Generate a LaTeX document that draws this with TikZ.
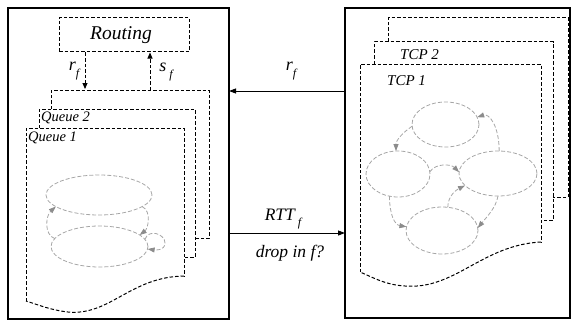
\documentclass[tikz,border=0pt]{standalone}
\usepackage{fontspec}
\setmainfont{Liberation Serif}
\usetikzlibrary{arrows.meta,shapes.geometric}
\tikzset{
  outerbox/.style={draw=black,line width=1.3pt,inner sep=0pt,outer sep=0pt,anchor=north west},
  sheet/.style={draw=black,line width=1pt,dash pattern=on 3.5pt off 2pt},
  blk/.style={draw=black,line width=0.9pt,dash pattern=on 3.5pt off 2pt,-{Triangle[length=6pt,width=5pt]}},
  solidarr/.style={draw=black,line width=0.9pt,-{Triangle[length=7pt,width=5pt]}},
  ell/.style={draw=black!35,ellipse,line width=0.8pt,dash pattern=on 4pt off 2pt,inner sep=0pt,outer sep=0pt},
  garr/.style={draw=black!35,line width=0.8pt,dash pattern=on 4pt off 2pt,-{Triangle[length=7pt,width=5pt,color=black!45]}},
  lbl/.style={inner sep=0pt,font=\itshape},
}
\newcommand{\subf}[1]{\raisebox{-0.75ex}{\fontsize{#1}{#1}\selectfont\itshape f}}
\begin{document}
\begin{tikzpicture}[x=1pt,y=-1pt]
\useasboundingbox (0,0) rectangle (572,321);
% outer boxes
\node[outerbox,minimum width=221,minimum height=311] (lbox) at (8,8) {};
\node[outerbox,minimum width=225,minimum height=310] (rbox) at (345,8) {};
% routing
\node[sheet,minimum width=130,minimum height=34,inner sep=0pt] (routing) at (124,35) {};
\node[lbl,font=\itshape\fontsize{19.5}{19.5}\selectfont] (routingtxt) at (121,35) {Routing};
% queue sheets
\draw[sheet] (51,109) -- (51,90) -- (209,90) -- (209,238) -- (195,238);
\draw[sheet] (39,128) -- (39,109) -- (195,109) -- (195,257) -- (184,257);
\draw[sheet] (26,301) -- (26,128) -- (184,128) -- (184,276);
\draw[sheet] (184,276) .. controls (130,277) and (110,316) .. (68,312)
  .. controls (50,310) and (36,304) .. (26,301);
\node[lbl,anchor=west,font=\itshape\fontsize{14.5}{14.5}\selectfont] (q2lbl) at (41,118) {Queue 2};
\node[lbl,anchor=west,font=\itshape\fontsize{14.5}{14.5}\selectfont] (q1lbl) at (28,138) {Queue 1};
% routing arrows
\coordinate (rfend) at (85,89);
\coordinate (sfstart) at (150,90);
\draw[blk] (routing.south -| rfend) -- (rfend);
\draw[blk] (sfstart) -- (routing.south -| sfstart);
\node[lbl,font=\itshape\fontsize{18}{18}\selectfont] (rflbl) at (74,71) {r\subf{12}};
\node[lbl,font=\itshape\fontsize{18}{18}\selectfont] (sflbl) at (166,72) {s\,\subf{12}};
% left ellipses
\node[ell,minimum width=106,minimum height=40] (qa) at (99,195) {};
\node[ell,minimum width=97,minimum height=41] (qb) at (99.5,246.5) {};
\coordinate (loopq) at (165,243);
\draw[garr] (qb.170) .. controls +(-11,-4) and +(-10,9) .. (qa.195);
\draw[garr] (qa.345) .. controls +(10,5) and +(8,-6) .. (qb.16);
\draw[garr] (qb.9) .. controls +(4,-11) and +(0,-9) .. (loopq) .. controls +(0,8) and +(7,1) .. (qb.357);
% TCP sheets
\draw[sheet] (388,42) -- (388,18) -- (568,18) -- (568,197) -- (553,197);
\draw[sheet] (374,64) -- (374,42) -- (553,42) -- (553,220) -- (541,220);
\draw[sheet] (360,272) -- (360,64) -- (541,64) -- (541,242);
\draw[sheet] (541,242) .. controls (482,245) and (455,290) .. (405,286)
  .. controls (385,285) and (370,276) .. (360,272);
\node[lbl,anchor=west,font=\itshape\fontsize{15}{15}\selectfont] (tcp2lbl) at (400,55) {TCP 2};
\node[lbl,anchor=west,font=\itshape\fontsize{15}{15}\selectfont] (tcp1lbl) at (387,81) {TCP 1};
% TCP ellipses
\node[ell,minimum width=67,minimum height=45] (et) at (445.5,124.5) {};
\node[ell,minimum width=64,minimum height=46] (el) at (398,174) {};
\node[ell,minimum width=78,minimum height=45] (er) at (498,173.5) {};
\node[ell,minimum width=72,minimum height=47] (eb) at (442,230.5) {};
\draw[garr] (er.87) .. controls +(0,-25) and +(12,-4) .. (et.13);
\draw[garr] (et.183) .. controls +(-9,6) and +(0,-11) .. (el.95);
\draw[garr] (el.4) .. controls +(6,-9) and +(-8,-8) .. (er.178);
\draw[garr] (el.249) .. controls +(0,18) and +(-12,-2) .. (eb.174);
\draw[garr] (eb.76) .. controls +(0,-12) and +(-8,4) .. (er.200);
\draw[garr] (er.270) .. controls +(-2,12) and +(8,-10) .. (eb.4);
% middle arrows
\coordinate (rfrow) at (0,91);
\coordinate (rttrow) at (0,233);
\draw[solidarr] (rbox.west |- rfrow) -- (lbox.east |- rfrow);
\draw[solidarr] (lbox.east |- rttrow) -- (rbox.west |- rttrow);
\node[lbl,font=\itshape\fontsize{18}{18}\selectfont] (rfmid) at (291,71) {r\subf{12}};
\node[lbl,font=\itshape\fontsize{17.5}{17.5}\selectfont] (rttlbl) at (283,219) {RTT\,\subf{12}};
\node[lbl,font=\itshape\fontsize{17.5}{17.5}\selectfont] (droplbl) at (290,253) {drop in f?};
\end{tikzpicture}
\end{document}
